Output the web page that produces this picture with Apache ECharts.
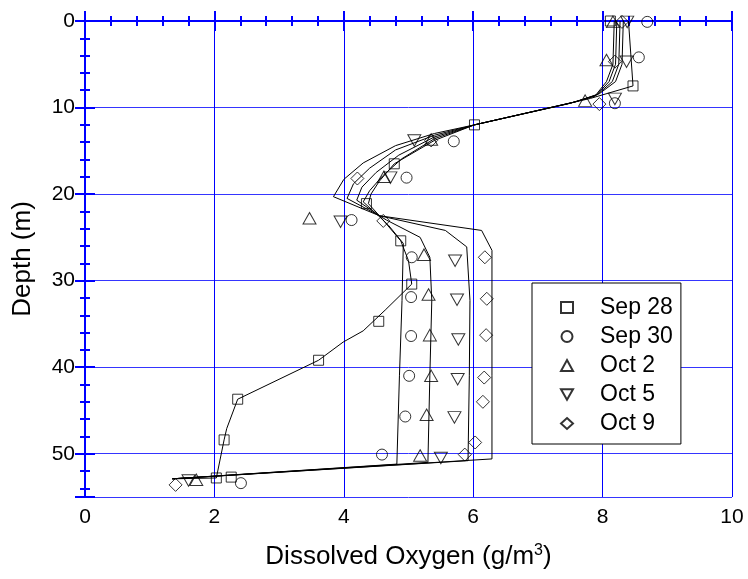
<!DOCTYPE html>
<html>
<head>
<meta charset="utf-8">
<script src="https://cdn.jsdelivr.net/npm/echarts@6/dist/echarts.min.js"></script>
<style>
  html, body { margin: 0; padding: 0; background: #fff; }
  #chart { width: 748px; height: 579px; }
</style>
</head>
<body>
<div id="chart"></div>
<script>
// Survey dates shown in the legend
const dates = ['Sep 28', 'Sep 30', 'Oct 2', 'Oct 5', 'Oct 9'];

// Measured dissolved oxygen profiles: [DO (g/m3), depth (m)]
const obsSep28 = [[8.12, 0], [8.47, 7.5], [6.02, 12.0], [4.78, 16.5], [4.35, 21.1], [4.88, 25.4],
  [5.05, 30.4], [4.54, 34.7], [3.61, 39.2], [2.36, 43.7], [2.15, 48.4], [2.03, 52.8], [2.26, 52.7]];
const obsSep30 = [[8.69, 0.1], [8.56, 4.2], [8.19, 9.5], [5.70, 13.9], [4.97, 18.1], [4.12, 23.0],
  [5.05, 27.3], [5.04, 31.9], [5.04, 36.4], [5.01, 41.0], [4.95, 45.7], [4.59, 50.1], [2.41, 53.4]];
const obsOct2 = [[8.16, 0.1], [8.06, 4.5], [7.73, 9.2], [5.35, 13.7], [4.62, 18.0], [3.47, 22.8],
  [5.24, 27.0], [5.31, 31.6], [5.33, 36.3], [5.35, 41.0], [5.28, 45.5], [5.18, 50.2], [1.72, 53.0]];
const obsOct5 = [[8.38, 0.1], [8.37, 4.7], [8.19, 9.0], [5.09, 13.8], [4.72, 18.1], [3.95, 23.2],
  [5.72, 27.7], [5.75, 32.2], [5.77, 36.8], [5.76, 41.4], [5.71, 45.8], [5.50, 50.5], [1.60, 53.1]];
const obsOct9 = [[8.30, 0.1], [8.19, 4.7], [7.95, 9.6], [5.35, 13.8], [4.21, 18.2], [4.61, 23.1],
  [6.18, 27.3], [6.21, 32.1], [6.20, 36.3], [6.17, 41.2], [6.15, 44.0], [6.03, 48.7], [5.87, 50.1], [1.40, 53.6]];

// Simulated profiles: [DO (g/m3), depth (m)]
const simSep28 = [[8.40, 0], [8.47, 7.5], [7.81, 8.95], [6.02, 12.0], [5.40, 13.8], [4.78, 16.5],
  [4.55, 18.5], [4.42, 20.0], [4.38, 21.1], [4.55, 22.5], [4.88, 25.4], [5.00, 27.7], [5.05, 30.4],
  [4.64, 33.4], [4.30, 35.8], [3.99, 37.1], [3.61, 39.2], [2.36, 43.7], [2.19, 47.1], [2.15, 48.4],
  [2.03, 52.8], [1.35, 52.9]];
const simSep30 = [[8.32, 0], [8.30, 5.0], [8.20, 7.0], [7.95, 8.4], [7.60, 9.3], [6.02, 12.0],
  [5.40, 13.6], [4.90, 15.9], [4.60, 17.9], [4.40, 19.6], [4.30, 20.9], [4.55, 22.6], [4.69, 23.6],
  [4.92, 25.7], [4.90, 32.3], [4.86, 41.0], [4.82, 51.2], [1.35, 52.9]];
const simOct2 = [[8.27, 0], [8.25, 5.0], [8.15, 7.0], [7.92, 8.5], [7.55, 9.4], [6.02, 12.0],
  [5.40, 13.4], [4.85, 15.5], [4.50, 17.5], [4.28, 19.2], [4.20, 20.7], [4.55, 22.5], [4.66, 23.0],
  [5.18, 25.0], [5.33, 27.3], [5.36, 32.3], [5.33, 41.0], [5.30, 51.0], [1.35, 52.9]];
const simOct5 = [[8.22, 0], [8.20, 5.0], [8.10, 7.0], [7.90, 8.6], [7.50, 9.5], [6.02, 12.0],
  [5.40, 13.2], [4.80, 14.9], [4.40, 17.0], [4.15, 18.8], [4.05, 20.5], [4.55, 22.5], [5.57, 24.2],
  [5.90, 26.1], [5.95, 32.3], [5.94, 41.0], [5.92, 50.8], [1.35, 52.9]];
const simOct9 = [[8.18, 0], [8.16, 5.0], [8.06, 7.0], [7.88, 8.7], [7.45, 9.6], [6.02, 12.0],
  [5.40, 13.0], [4.80, 14.4], [4.30, 16.4], [4.00, 18.3], [3.84, 20.3], [4.55, 22.5], [6.13, 24.2],
  [6.29, 26.5], [6.29, 41.0], [6.29, 50.6], [1.35, 52.9]];

const observed = [obsSep28, obsSep30, obsOct2, obsOct5, obsOct9];
const simulated = [simSep28, simSep30, simOct2, simOct5, simOct9];

const BLUE = '#0000ff';
const FONT = 'Liberation Sans, Arial, Helvetica, sans-serif';
const downTriangle = 'path://M0,0 L12,0 L6,10.4 Z';
const markerShapes = ['rect', 'circle', 'triangle', downTriangle, 'diamond'];
const markerSizes = [[10, 10], [11, 11], [13, 11.5], [13, 11.5], [13, 13]];

const hollow = { color: 'rgba(0,0,0,0)', borderColor: '#000', borderWidth: 1 };

const lineSeries = simulated.map((pts, i) => ({
  name: dates[i] + ' (model)',
  type: 'line',
  data: pts,
  showSymbol: false,
  symbol: 'none',
  silent: true,
  z: 2,
  lineStyle: { color: '#000', width: 1 },
  emphasis: { disabled: true }
}));

const pointSeries = observed.map((pts, i) => ({
  name: dates[i],
  type: 'scatter',
  data: pts,
  symbol: markerShapes[i],
  symbolSize: markerSizes[i],
  itemStyle: hollow,
  z: 3,
  emphasis: { disabled: true }
}));

// Legend icons (smaller than the plotted markers)
const legendIcons = [
  { icon: 'rect', w: 9, h: 9 },
  { icon: 'circle', w: 11, h: 11 },
  { icon: 'triangle', w: 12, h: 11 },
  { icon: downTriangle, w: 12, h: 11 },
  { icon: 'diamond', w: 12, h: 12 }
];

const tickStyle = { color: BLUE, width: 2 };

const chart = echarts.init(document.getElementById('chart'), null, { renderer: 'canvas' });
chart.setOption({
  animation: false,
  backgroundColor: '#fff',
  textStyle: { fontFamily: FONT },
  grid: { left: 85, right: 16, top: 21, bottom: 82, containLabel: false },
  xAxis: [{
    type: 'value', min: 0, max: 10, interval: 2, position: 'bottom',
    name: 'Dissolved Oxygen (g/m{sup|3})',
    nameLocation: 'middle', nameGap: 46,
    nameTextStyle: {
      fontSize: 26, color: '#000', fontFamily: FONT,
      rich: { sup: { fontSize: 16, verticalAlign: 'top', fontFamily: FONT, color: '#000', padding: [0, 0, 12, 0] } }
    },
    axisLine: { lineStyle: { color: BLUE, width: 2 } },
    axisTick: { inside: true, length: 10, lineStyle: tickStyle },
    minorTick: { show: true, splitNumber: 5, length: 5, lineStyle: tickStyle },
    splitLine: { show: true, lineStyle: { color: BLUE, width: 1 } },
    axisLabel: { fontSize: 21, color: '#000', margin: 10, fontFamily: FONT }
  }, {
    type: 'value', min: 0, max: 10, interval: 2, position: 'top',
    axisLine: { lineStyle: { color: BLUE, width: 2 } },
    axisTick: { inside: true, length: 10, lineStyle: tickStyle },
    minorTick: { show: true, splitNumber: 5, length: 5, lineStyle: tickStyle },
    splitLine: { show: false },
    axisLabel: { show: false }
  }],
  yAxis: [{
    type: 'value', min: 0, max: 55, interval: 10, inverse: true, position: 'left',
    name: 'Depth (m)', nameLocation: 'middle', nameGap: 49,
    nameTextStyle: { fontSize: 26, color: '#000', fontFamily: FONT },
    axisLine: { lineStyle: { color: BLUE, width: 2 } },
    axisTick: { inside: true, length: 10, lineStyle: tickStyle },
    minorTick: { show: true, splitNumber: 5, length: 5, lineStyle: tickStyle },
    splitLine: { show: true, lineStyle: { color: '#3535ff', width: 1 } },
    axisLabel: {
      fontSize: 21, color: '#000', margin: 10, fontFamily: FONT,
      formatter: v => (v % 10 === 0 ? String(v) : '')
    }
  }, {
    type: 'value', min: 0, max: 55, interval: 10, inverse: true, position: 'right',
    axisLine: { lineStyle: { color: BLUE, width: 2 } },
    axisTick: { inside: true, length: 10, lineStyle: tickStyle },
    minorTick: { show: true, splitNumber: 5, length: 5, lineStyle: tickStyle },
    splitLine: { show: false },
    axisLabel: { show: false }
  }],
  legend: {
    orient: 'vertical',
    left: 532, top: 283,
    data: dates.map((d, i) => ({ name: d, icon: legendIcons[i].icon })),
    selectedMode: false,
    symbolKeepAspect: true,
    itemWidth: 12, itemHeight: 11, itemGap: 6,
    padding: [13, 8, 9, 28],
    borderColor: '#000', borderWidth: 1,
    backgroundColor: '#fff',
    formatter: name => '{gap|}' + name,
    textStyle: {
      fontSize: 23, color: '#000', fontFamily: FONT,
      rich: { gap: { width: 22, fontSize: 23 } }
    }
  },
  series: [...lineSeries, ...pointSeries]
});
</script>
</body>
</html>
